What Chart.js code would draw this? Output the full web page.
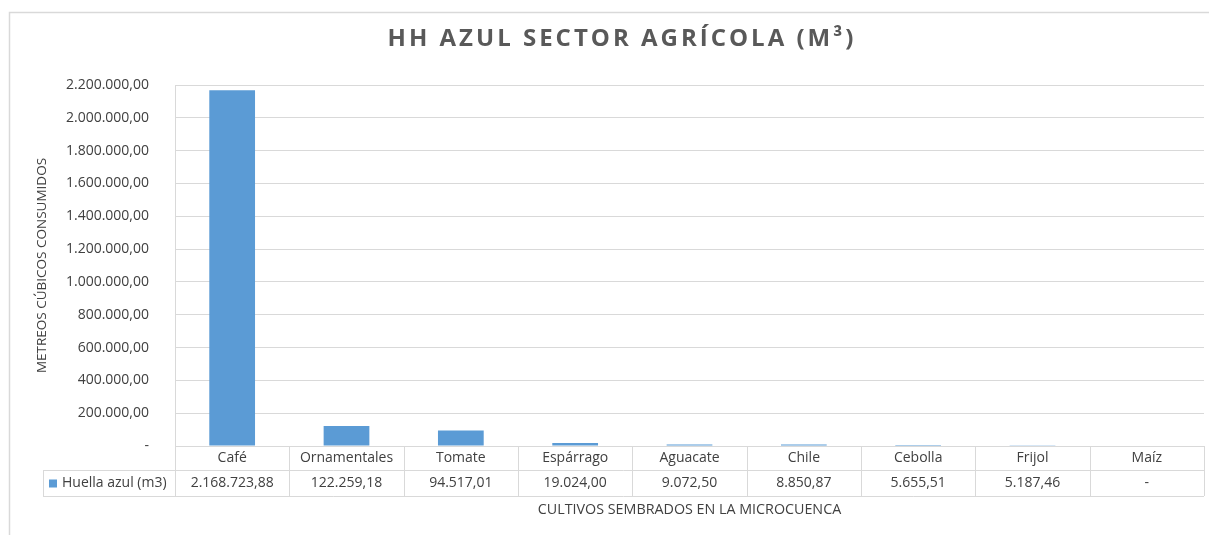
<!DOCTYPE html>
<html>
<head>
<meta charset="utf-8">
<script src="https://cdn.jsdelivr.net/npm/chart.js@4.4.1/dist/chart.umd.min.js"></script>
<style>
  body { margin: 0; background: #fff; }
  #wrap { width: 1209px; height: 535px; }
</style>
</head>
<body>
<div id="wrap"><canvas id="mychart"></canvas></div>
<script>
const categories = ['Café', 'Ornamentales', 'Tomate', 'Espárrago', 'Aguacate', 'Chile', 'Cebolla', 'Frijol', 'Maíz'];
const huellaAzul = [2168723.88, 122259.18, 94517.01, 19024.00, 9072.50, 8850.87, 5655.51, 5187.46, 0];
const seriesName = 'Huella azul (m3)';
const chartTitle = 'HH AZUL SECTOR AGRÍCOLA (M³)';
const yTitle = 'METREOS CÚBICOS CONSUMIDOS';
const xTitle = 'CULTIVOS SEMBRADOS EN LA MICROCUENCA';
const yMax = 2200000;
const yStep = 200000;

const FONT = "'Open Sans', sans-serif";
const TEXT = '#404040';
const LINE = '#d9d9d9';
const BLUE = '#5b9bd5';

// 2168723.88 -> "2.168.723,88", 0 -> "-"
function fmt(v) {
    if (v === 0) return '-';
    let parts = v.toFixed(2).split('.');
    let ent = parts[0].replace(/\B(?=(\d{3})+(?!\d))/g, '.');
    return ent + ',' + parts[1];
}

// frame + background
const framePlugin = {
    id: 'frame',
    beforeDraw(chart) {
        const ctx = chart.ctx;
        ctx.save();
        ctx.fillStyle = '#fff';
        ctx.fillRect(0, 0, chart.width, chart.height);
        ctx.strokeStyle = LINE;
        ctx.lineWidth = 1.5;
        ctx.beginPath();
        ctx.moveTo(9.5, chart.height);
        ctx.lineTo(9.5, 12.5);
        ctx.lineTo(chart.width, 12.5);
        ctx.stroke();
        ctx.restore();
    }
};

// title with letter spacing (chart.js title has none)
const titlePlugin = {
    id: 'spacedTitle',
    afterDraw(chart) {
        const ctx = chart.ctx;
        ctx.save();
        ctx.font = "bold 24px " + FONT;
        ctx.letterSpacing = '3px';
        ctx.fillStyle = '#595959';
        ctx.textAlign = 'center';
        ctx.textBaseline = 'middle';
        ctx.fillText(chartTitle, 622, 39);
        ctx.restore();
    }
};

// excel style data table under the x axis
const tablePlugin = {
    id: 'dataTable',
    afterDraw(chart) {
        const ctx = chart.ctx;
        const x = chart.scales.x;
        const area = chart.chartArea;
        const step = x.getPixelForValue(1) - x.getPixelForValue(0);
        const y0 = area.bottom, y1 = area.bottom + 24, y2 = area.bottom + 50;
        const legendLeft = 43;

        ctx.save();
        ctx.strokeStyle = LINE;
        ctx.lineWidth = 1;
        ctx.beginPath();
        ctx.moveTo(legendLeft, y1 + 0.5); ctx.lineTo(area.right, y1 + 0.5);
        ctx.moveTo(legendLeft, y2 + 0.5); ctx.lineTo(area.right, y2 + 0.5);
        ctx.moveTo(legendLeft + 0.5, y1); ctx.lineTo(legendLeft + 0.5, y2);
        for (let i = 0; i <= categories.length; i++) {
            const px = Math.round(x.getPixelForValue(i) - step / 2) + 0.5;
            ctx.moveTo(px, y0); ctx.lineTo(px, y2);
        }
        ctx.stroke();

        ctx.font = "14px " + FONT;
        ctx.fillStyle = TEXT;
        ctx.textBaseline = 'middle';
        ctx.textAlign = 'center';
        const ym = (y1 + y2) / 2 + 0.5;
        huellaAzul.forEach((v, i) => {
            ctx.fillText(fmt(v), x.getPixelForValue(i), ym);
        });

        ctx.fillStyle = BLUE;
        ctx.fillRect(49, ym - 4, 8, 8);
        ctx.fillStyle = TEXT;
        ctx.textAlign = 'left';
        ctx.fillText(seriesName, 62, ym);
        ctx.restore();
    }
};

const ctx = document.getElementById('mychart');

const myChart = new Chart(ctx, {
    type: 'bar',
    data: {
        labels: categories,
        datasets: [{
            label: seriesName,
            data: huellaAzul,
            backgroundColor: BLUE,
            borderWidth: 0,
            barPercentage: 0.4,
            categoryPercentage: 1
        }]
    },
    options: {
        responsive: true,
        maintainAspectRatio: false,
        animation: false,
        layout: {
            padding: { left: 30, right: 5, top: 85, bottom: 0 }
        },
        plugins: {
            legend: { display: false },
            title: { display: false },
            tooltip: { enabled: false }
        },
        scales: {
            y: {
                min: 0,
                max: yMax,
                ticks: {
                    stepSize: yStep,
                    padding: 26,
                    color: TEXT,
                    font: { family: FONT, size: 14 },
                    callback: (v) => fmt(v)
                },
                grid: { color: LINE, drawTicks: false },
                border: { display: true, color: LINE },
                title: {
                    display: true,
                    text: yTitle,
                    color: TEXT,
                    font: { family: FONT, size: 13.5 },
                    padding: { top: 4, bottom: 0 }
                },
                afterFit: (scale) => { scale.width = 145; }
            },
            x: {
                grid: { display: false, drawTicks: false },
                border: { display: false },
                ticks: {
                    padding: 4,
                    color: TEXT,
                    font: { family: FONT, size: 14 },
                    maxRotation: 0,
                    autoSkip: false
                },
                title: {
                    display: true,
                    text: xTitle,
                    color: TEXT,
                    font: { family: FONT, size: 14.3 },
                    padding: { top: 0, bottom: 16 }
                },
                afterFit: (scale) => { scale.height = 89; }
            }
        }
    },
    plugins: [framePlugin, titlePlugin, tablePlugin]
});
</script>
</body>
</html>
